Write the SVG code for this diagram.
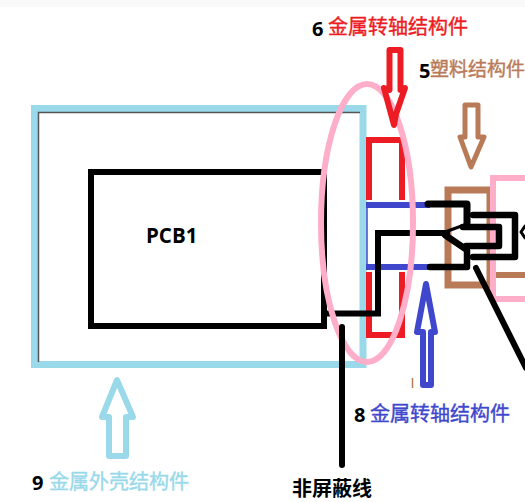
<svg xmlns="http://www.w3.org/2000/svg" width="525" height="502" viewBox="0 0 525 502">
<style>
.s{fill:none;stroke-linejoin:round;stroke-linecap:round}
.m{fill:none;stroke-linejoin:miter;stroke-linecap:butt}
.k{stroke:#000;stroke-width:6}
.t{font-family:"Noto Sans CJK SC","Noto Sans",sans-serif;font-size:20px;stroke-width:.4}
.d{font-family:"Open Sans","Noto Sans",sans-serif;font-size:20px;font-weight:700;fill:#000}
</style>
<rect width="525" height="502" fill="#fff"/>
<rect width="525" height="7" fill="#f9f9f9"/>
<g id="shell">
<rect x="34.500" y="108.500" width="328.500" height="256" class="m" stroke="#99d9ea" stroke-width="7"/>
<path d="M38.500 362V112.500H360" class="m" stroke="#555" stroke-width="1.500"/>
</g>
<g id="pcb1">
<rect x="91" y="172" width="233" height="154" class="m k"/>
<text x="146" y="243" class="d" style="font-size:20.500px">PCB1</text>
</g>
<g id="shaft6">
<path d="M369 200V140H402V200M369 272V335H402V272" class="m" stroke="#ed1c24" stroke-width="6"/>
</g>
<g id="shaft8">
<path d="M366 205H430M366 267H430" class="m" stroke="#3f48cc" stroke-width="6"/>
<path d="M367 205V267" class="m" stroke="#3f48cc" stroke-width="1.500"/>
</g>
<g id="plastic5">
<path d="M448 190H490V285H448Z" class="m" stroke="#b97a57" stroke-width="7"/>
<path d="M493 275H525" class="m" stroke="#b97a57" stroke-width="6"/>
</g>
<g id="connector-housing">
<path d="M525 178H493V299H525" class="m" stroke="#ffaec9" stroke-width="6"/>
</g>
<g id="connectors">
<path d="M326 313.500H378V233H450" class="m k"/>
<path d="M428 204H467V223" class="s k" style="stroke-width:7"/>
<path d="M467 224L445 232" class="s k" style="stroke-width:3"/>
<path d="M445 235L467 250V267H430" class="s k" style="stroke-width:6.500"/>
<path d="M463 227H499V246H466" class="s k" style="stroke-width:6.500"/>
<path d="M473 215H515V257H473" class="s k" style="stroke-width:6.500"/>
<path d="M525 226L521 232L525 238" class="s k" style="stroke-width:3"/>
<path d="M476 268L526 368" class="s k"/>
</g>
<g id="shield-ellipse">
<ellipse cx="367" cy="223" rx="46" ry="139" fill="none" stroke="#ffaec9" stroke-width="6"/>
</g>
<path id="unshielded-wire" d="M342 327V465" class="s k"/>
<g id="label-6">
<path d="M389.500 50H400.500V90L405 88L396 114L394 125L384 88L389.500 90Z" class="s" stroke="#ed1c24" stroke-width="6"/>
<text x="312" y="36" class="d">6</text>
<text x="328" y="34" class="t" fill="#ed1c24" stroke="#ed1c24">金属转轴结构件</text>
</g>
<g id="label-5">
<path d="M465 105H478V137H484L471 167L460 137H465Z" class="s" stroke="#b97a57" stroke-width="5"/>
<text x="419" y="78" class="d">5</text>
<text x="430" y="76" class="t" fill="#b97a57" stroke="#b97a57" style="font-size:19px">塑料结构件</text>
</g>
<g id="label-8">
<path d="M423 385H431V332L435 332L426 284L417 332H423Z" class="s" stroke="#3f48cc" stroke-width="6"/>
<path d="M412.500 378V388" stroke="#b97a57" stroke-width="1.500" fill="none"/>
<text x="354" y="422" class="d">8</text>
<text x="370" y="421" class="t" fill="#3f48cc" stroke="#3f48cc">金属转轴结构件</text>
</g>
<g id="label-9">
<path d="M109 456H126V417H133L117 380L102 417H109Z" class="s" stroke="#99d9ea" stroke-width="6"/>
<text x="32" y="490" class="d">9</text>
<text x="49" y="489" class="t" fill="#99d9ea" stroke="#99d9ea">金属外壳结构件</text>
</g>
<g id="label-unshielded">
<text x="292" y="496" class="t" fill="#000" font-weight="700">非屏蔽线</text>
</g>
</svg>
